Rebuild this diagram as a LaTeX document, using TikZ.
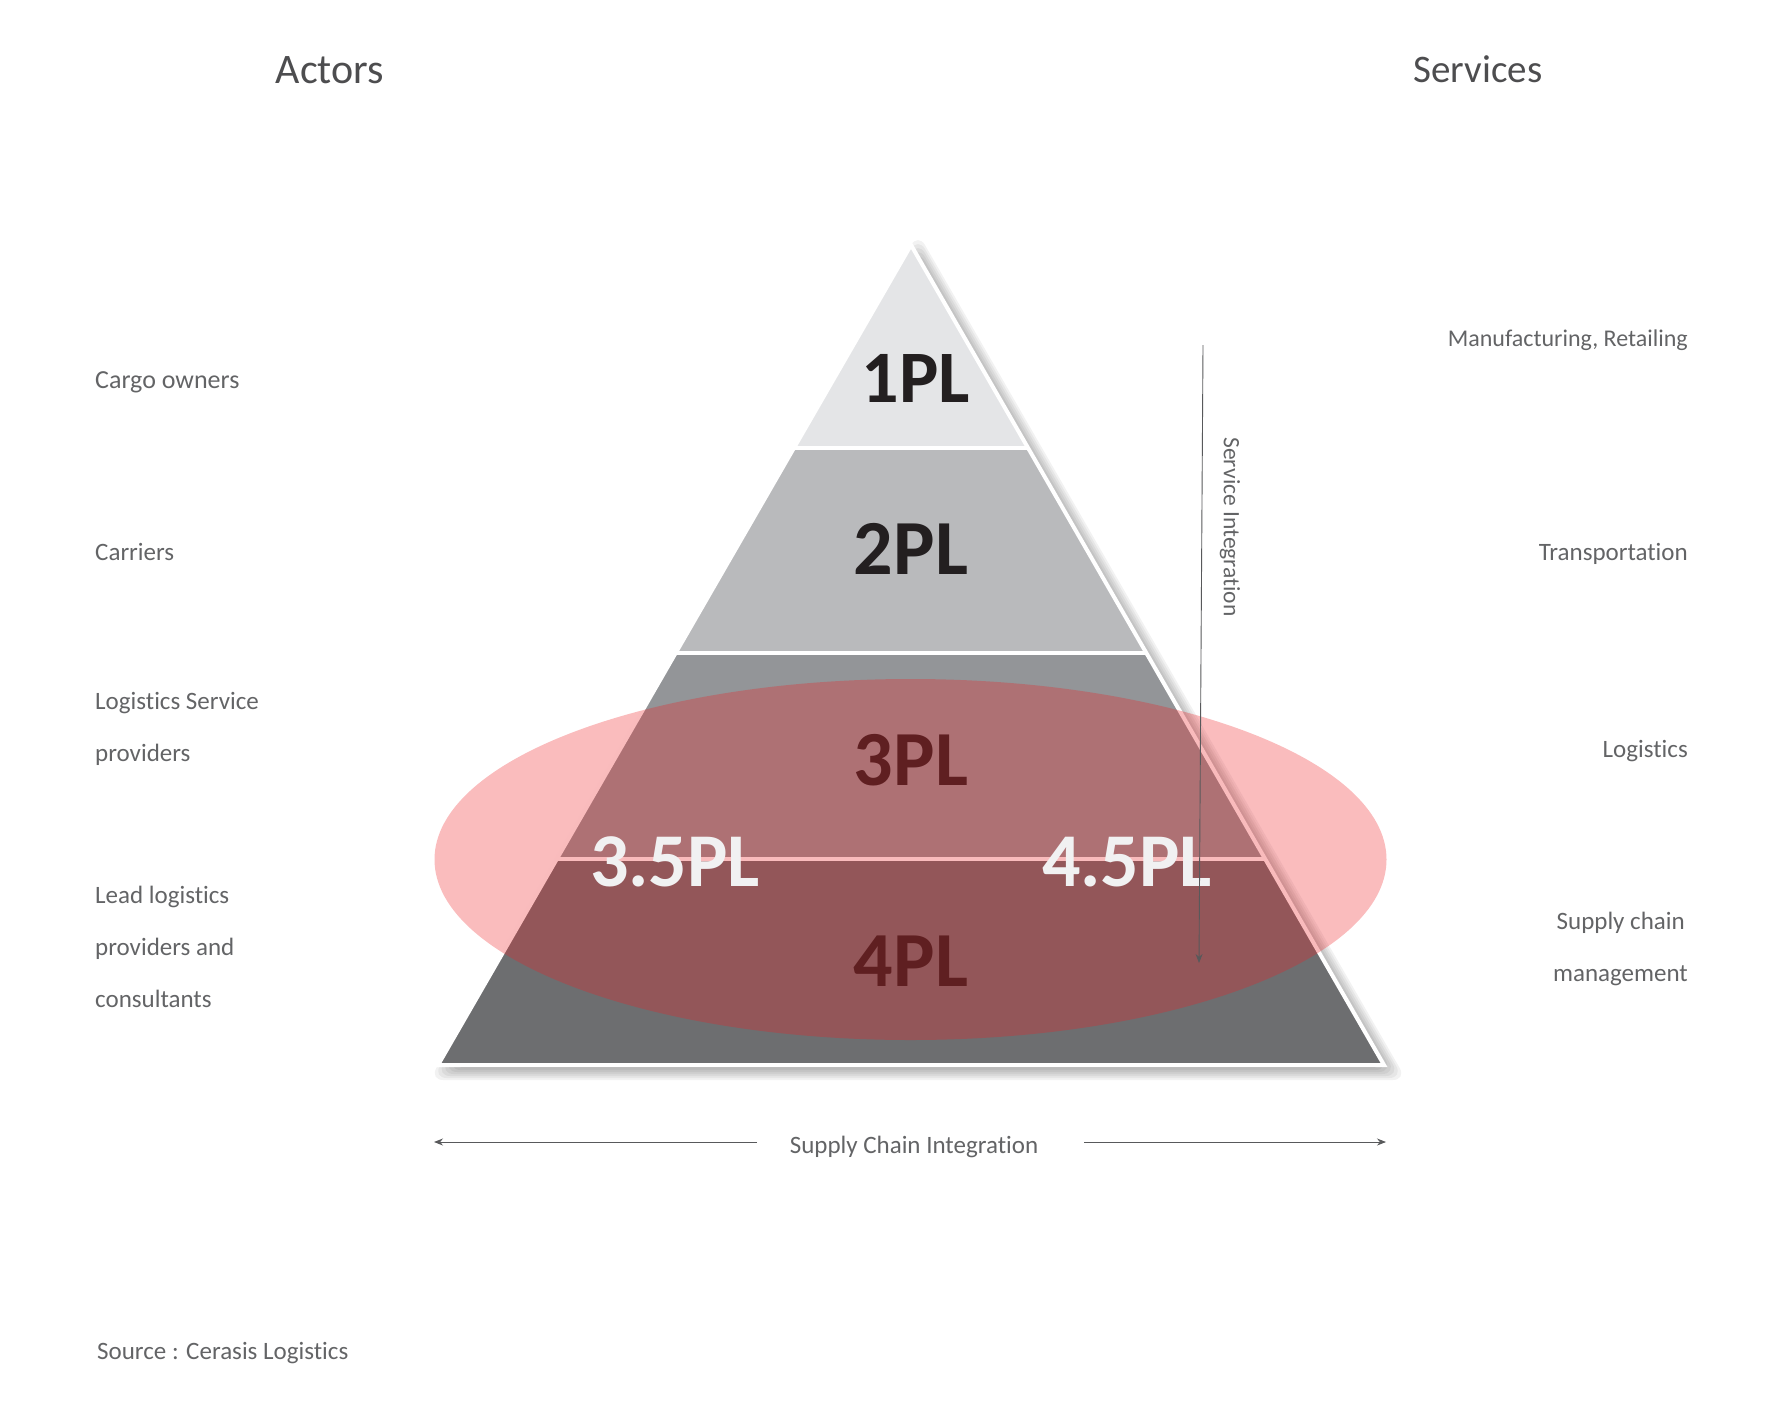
\documentclass[tikz,border=0pt]{standalone}
\usepackage{fontspec}
\setmainfont[RawFeature={-liga;-clig;-calt}]{Carlito}
\usepackage{xcolor}
\usetikzlibrary{arrows.meta}
\definecolor{bandone}{HTML}{E4E5E7}
\definecolor{bandtwo}{HTML}{B9BABC}
\definecolor{bandthree}{HTML}{939598}
\definecolor{bandfour}{HTML}{6D6E70}
\definecolor{inkgrey}{HTML}{636466}
\definecolor{arrowgrey}{HTML}{58595B}
\definecolor{headgrey}{HTML}{4D4D4F}
\definecolor{plink}{HTML}{231F20}
\definecolor{overlap}{HTML}{ED2024}
\definecolor{palewhite}{HTML}{F1F1F2}
\tikzset{
	sidelabel/.style={inner sep=0pt,text=inkgrey,font=\fontsize{25}{25}\selectfont},
	leftlabel/.style={sidelabel,anchor=base west},
	rightlabel/.style={sidelabel,anchor=base east},
	headlabel/.style={inner sep=0pt,anchor=base,text=headgrey,font=\fontsize{39}{39}\selectfont},
	pllabel/.style={inner sep=0pt,anchor=base,text=plink,font=\bfseries\fontsize{78}{78}\selectfont},
	midlabel/.style={inner sep=0pt,anchor=base,text=palewhite,font=\bfseries\fontsize{76}{76}\selectfont},
	thinarrow/.style={draw=arrowgrey,line width=0.9pt,-{Stealth[length=9pt,width=7pt]}},
}
\begin{document}
\begin{tikzpicture}[x=1pt,y=-1pt]
	\useasboundingbox (0,0) rectangle (1782,1418);
	\coordinate (apex) at (911,245);
	\coordinate (baseleft) at (438,1065);
	\coordinate (baseright) at (1384,1065);
	% soft shadow
	\foreach \k in {-9,-7,...,9} {
		\fill[black,opacity=0.05,rounded corners=14pt,shift={(918,797.7)},scale={1+\k/273}] (0,-546.7) -- (-473,273.3) -- (473,273.3) -- cycle;
	}
	% bands
	\begin{scope}
		\clip (apex) -- (baseleft) -- (baseright) -- cycle;
		\foreach \ytop/\ybot/\col in {240/448/bandone,448/653/bandtwo,653/859/bandthree,859/1070/bandfour} {
			\fill[\col] (400,\ytop) rectangle (1420,\ybot);
		}
		\foreach \yline in {448,653,859} {
			\draw[white,line width=4pt] (400,\yline) -- (1420,\yline);
		}
	\end{scope}
	\draw[white,line width=4pt,line join=miter] (apex) -- (baseleft) -- (baseright) -- cycle;
	\node[pllabel,font=\bfseries\fontsize{74}{74}\selectfont] (onepl) at (916,402) {1PL};
	\node[pllabel] (twopl) at (911,574) {2PL};
	\node[pllabel] (threepl) at (911,785) {3PL};
	\node[pllabel] (fourpl) at (911,986) {4PL};
	\fill[overlap,opacity=0.3] (910.5,859.5) ellipse (476 and 180.5);
	\node[midlabel] (threefive) at (675,886) {3.5PL};
	\node[midlabel] (fourfive) at (1127,886) {4.5PL};
	% headings
	\node[headlabel,font=\fontsize{42}{42}\selectfont] (actors) at (330,84) {Actors};
	\node[headlabel] (services) at (1478,83) {Services};
	% actors
	\node[leftlabel,font=\fontsize{26}{26}\selectfont] (cargo) at (95,388) {Cargo owners};
	\node[leftlabel] (carriers) at (95,560) {Carriers};
	\node[leftlabel] (lsp) at (95,709) {Logistics Service};
	\node[leftlabel] (lspb) at (95,761) {providers};
	\node[leftlabel] (lead) at (95,903) {Lead logistics};
	\node[leftlabel] (leadb) at (95,955) {providers and};
	\node[leftlabel] (leadc) at (95,1007) {consultants};
	% services
	\node[rightlabel,font=\fontsize{24}{24}\selectfont] (manuf) at (1688,346) {Manufacturing, Retailing};
	\node[rightlabel] (transport) at (1688,560) {Transportation};
	\node[rightlabel] (logistics) at (1688,757) {Logistics};
	\node[rightlabel] (supply) at (1685,929) {Supply chain};
	\node[rightlabel] (supplyb) at (1688,981) {management};
	\node[leftlabel] (source) at (97,1359) {Source : Cerasis Logistics};
	% integration arrows
	\node[sidelabel] (sci) at (914,1147) {Supply Chain Integration};
	\node[sidelabel,rotate=-90,font=\fontsize{23.5}{23.5}\selectfont] (svc) at (1230,527) {Service Integration};
	\coordinate (sciwest) at (757,1142);
	\coordinate (scieast) at (1084,1142);
	\coordinate (scileft) at (434,1142);
	\coordinate (sciright) at (1386,1142);
	\coordinate (svctop) at (1203,345);
	\coordinate (svcbot) at (1199,963);
	\draw[thinarrow] (sciwest) -- (scileft);
	\draw[thinarrow] (scieast) -- (sciright);
	\draw[thinarrow] (svctop) -- (svcbot);
\end{tikzpicture}
\end{document}
